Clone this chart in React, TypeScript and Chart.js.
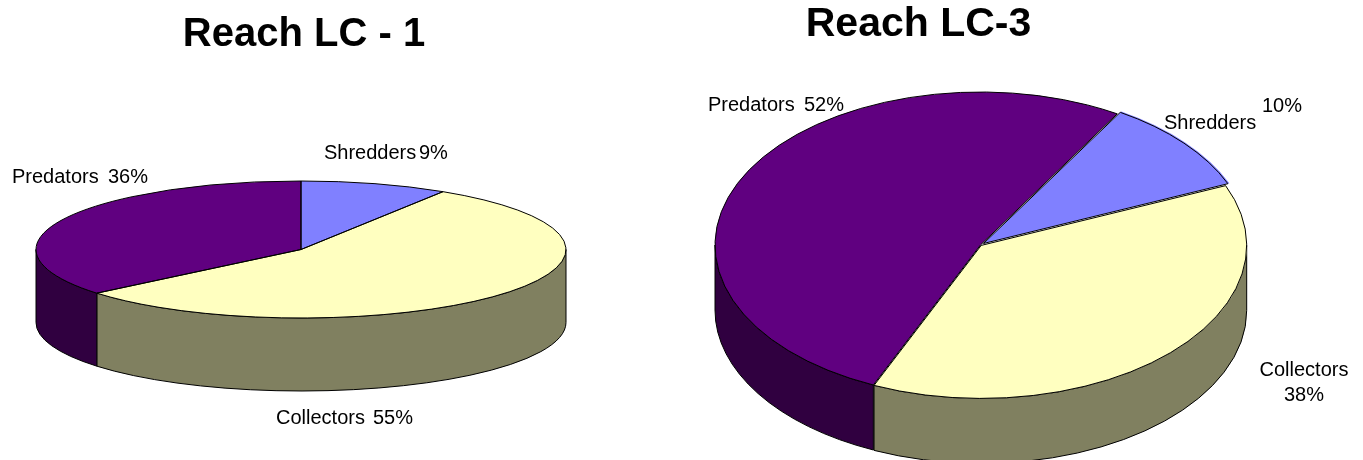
import { useEffect, useRef } from "react";
import { Chart, registerables } from "chart.js";

Chart.register(...registerables);

const categories = ["Shredders", "Collectors", "Predators"];
const reachOneValues = [9, 55, 36];
const reachThreeValues = [10, 38, 52];
const topColors = ["#8080FF", "#FFFFC0", "#600080"];
const wallColors = ["#404080", "#808060", "#300040"];
const FONT = '"Liberation Sans", Arial, sans-serif';

type TextRun = { text: string; x: number; y: number; align?: CanvasTextAlign };

type PieSetup = {
  title: string;
  left: number;
  width: number;
  values: number[];
  rotation: number;
  cx: number;
  cy: number;
  rx: number;
  ry: number;
  depth: number;
  offsets: number[];
  texts: TextRun[];
  titleRun: TextRun;
  titleSize: number;
};

const pies: PieSetup[] = [
  {
    title: "Reach LC - 1",
    left: 0,
    width: 680,
    values: reachOneValues,
    rotation: 0,
    cx: 301,
    cy: 249.5,
    rx: 265,
    ry: 68.5,
    depth: 73,
    offsets: [0, 0, 0],
    titleRun: { text: "Reach LC - 1", x: 304, y: 34.5, align: "center" },
    titleSize: 40,
    texts: [
      { text: categories[0], x: 324, y: 153 },
      { text: `${reachOneValues[0]}%`, x: 419, y: 153 },
      { text: categories[1], x: 276, y: 418 },
      { text: `${reachOneValues[1]}%`, x: 373, y: 418 },
      { text: categories[2], x: 12, y: 177 },
      { text: `${reachOneValues[2]}%`, x: 108, y: 177 },
    ],
  },
  {
    title: "Reach LC-3",
    left: 680,
    width: 683,
    values: reachThreeValues,
    rotation: 31,
    cx: 300.5,
    cy: 245,
    rx: 265.5,
    ry: 153,
    depth: 65,
    offsets: [16, 4, 0],
    titleRun: { text: "Reach LC-3", x: 238.5, y: 25, align: "center" },
    titleSize: 41,
    texts: [
      { text: categories[2], x: 28, y: 105 },
      { text: `${reachThreeValues[2]}%`, x: 124, y: 105 },
      { text: categories[0], x: 484, y: 123 },
      { text: `${reachThreeValues[0]}%`, x: 582, y: 106 },
      { text: categories[1], x: 624, y: 370, align: "center" },
      { text: `${reachThreeValues[1]}%`, x: 624, y: 395, align: "center" },
    ],
  },
];

// Chart.js translates an arc by a quarter of its offset option.
const arcCenter = (el: any, opts: any) => {
  const k = opts.ry / opts.rx;
  const mid = (el.startAngle + el.endAngle) / 2;
  const off = (el.options.offset || 0) / 4;
  return {
    x: opts.cx + Math.cos(mid) * off,
    y: opts.cy + Math.sin(mid) * off * k,
  };
};

// Tilts the flat pie arcs into a disc and gives it a cylindrical wall.
const discPlugin = {
  id: "disc",
  beforeDatasetsDraw(chart: any, _args: any, opts: any) {
    const { ctx } = chart;
    const arcs = chart.getDatasetMeta(0).data;
    const k = opts.ry / opts.rx;

    ctx.save();
    ctx.lineWidth = 1;
    ctx.strokeStyle = "#000";
    arcs.forEach((el: any, i: number) => {
      const c = arcCenter(el, opts);
      // Angles are normalised so the front half of the disc is the 0..PI window.
      for (const shift of [-2 * Math.PI, 0, 2 * Math.PI]) {
        const a0 = Math.max(el.startAngle + shift, 0);
        const a1 = Math.min(el.endAngle + shift, Math.PI);
        if (a1 <= a0) continue;
        ctx.beginPath();
        ctx.ellipse(c.x, c.y, opts.rx, opts.ry, 0, a0, a1);
        ctx.ellipse(c.x, c.y + opts.depth, opts.rx, opts.ry, 0, a1, a0, true);
        ctx.closePath();
        ctx.fillStyle = wallColors[i];
        ctx.fill();
        ctx.stroke();
      }
    });
    ctx.restore();

    const ref = arcs[0];
    ctx.save();
    ctx.translate(opts.cx, opts.cy);
    ctx.scale(1, k);
    ctx.translate(-ref.x, -ref.y);
  },
  afterDatasetsDraw(chart: any, _args: any, opts: any) {
    const { ctx } = chart;
    ctx.restore();
    const arcs = chart.getDatasetMeta(0).data;
    ctx.save();
    ctx.lineWidth = 1;
    ctx.strokeStyle = "#000";
    arcs.forEach((el: any) => {
      const c = arcCenter(el, opts);
      ctx.beginPath();
      ctx.moveTo(c.x, c.y);
      ctx.ellipse(c.x, c.y, opts.rx, opts.ry, 0, el.startAngle, el.endAngle);
      ctx.closePath();
      ctx.stroke();
    });
    ctx.restore();
  },
  afterDraw(chart: any, _args: any, opts: any) {
    const { ctx } = chart;
    ctx.save();
    ctx.fillStyle = "#000";
    ctx.textBaseline = "middle";
    ctx.font = `bold ${opts.titleSize}px ${FONT}`;
    ctx.textAlign = opts.titleRun.align;
    ctx.fillText(opts.titleRun.text, opts.titleRun.x, opts.titleRun.y);
    ctx.font = `20px ${FONT}`;
    for (const t of opts.texts) {
      ctx.textAlign = t.align || "left";
      ctx.fillText(t.text, t.x, t.y);
    }
    ctx.restore();
  },
};

function Pie({ setup }: { setup: PieSetup }) {
  const ref = useRef<HTMLCanvasElement | null>(null);
  useEffect(() => {
    if (!ref.current) return;
    const chart = new Chart(ref.current, {
      type: "pie",
      data: {
        labels: categories,
        datasets: [
          {
            data: setup.values,
            backgroundColor: topColors,
            borderWidth: 0,
            offset: setup.offsets,
          },
        ],
      },
      options: {
        responsive: false,
        animation: false,
        rotation: setup.rotation,
        radius: setup.rx,
        layout: { padding: 0 },
        plugins: {
          legend: { display: false },
          tooltip: { enabled: false },
          disc: {
            cx: setup.cx,
            cy: setup.cy,
            rx: setup.rx,
            ry: setup.ry,
            depth: setup.depth,
            texts: setup.texts,
            titleRun: setup.titleRun,
            titleSize: setup.titleSize,
          },
        },
      } as any,
      plugins: [discPlugin],
    } as any);
    return () => chart.destroy();
  }, [setup]);
  return (
    <canvas
      ref={ref}
      width={setup.width}
      height={460}
      aria-label={setup.title}
      style={{ position: "absolute", left: setup.left, top: 0, width: setup.width, height: 460 }}
    />
  );
}

export default function App() {
  return (
    <div style={{ position: "absolute", left: 0, top: 0, width: 1363, height: 460, background: "#fff", overflow: "hidden" }}>
      {pies.map((p) => (
        <Pie key={p.title} setup={p} />
      ))}
    </div>
  );
}
